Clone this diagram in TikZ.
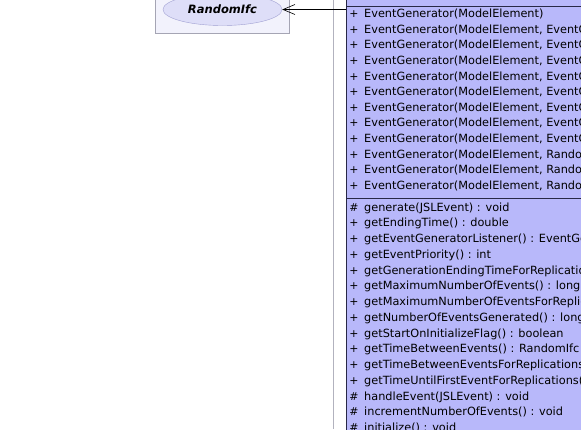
\documentclass[tikz,border=0pt]{standalone}
\usepackage{fontspec}
\setmainfont{DejaVu Sans}
\usetikzlibrary{shapes.geometric,arrows.meta}
\definecolor{pkgfill}{RGB}{242,242,252}
\definecolor{pkgline}{RGB}{165,165,180}
\definecolor{ellfill}{RGB}{222,222,248}
\definecolor{ellline}{RGB}{160,160,210}
\definecolor{clsfill}{RGB}{184,184,250}
\definecolor{clsline}{RGB}{40,40,70}
\definecolor{frameline}{RGB}{178,178,190}

\begin{document}
\begin{tikzpicture}[x=1pt, y=-1pt,
	member/.style={anchor=base west, inner sep=0pt, font=\fontsize{11.3}{13}\selectfont},
	vis/.style={anchor=base, inner sep=0pt, font=\fontsize{10.9}{13}\selectfont},
	dep/.style={-{Straight Barb[length=12pt, width=10pt]}, black, line width=0.6pt}]
	\clip (0,0) rectangle (581,429);
	\fill[white] (0,0) rectangle (581,429);
	
	% interface box on the left
	\node[draw=pkgline, fill=pkgfill, anchor=south west, minimum width=134pt, minimum height=45pt, inner sep=0pt] (pkg) at (155,33) {};
	\node[ellipse, draw=ellline, fill=ellfill, minimum width=119pt, minimum height=32pt, inner sep=0pt, font=\fontsize{11.5}{13}\selectfont\bfseries\itshape] (rnd) at (222.5,9.5) {RandomIfc};
	
	\draw[frameline] (333,0) -- (333,429);
	
	% the class
	\node[draw=clsline, fill=clsfill, anchor=north west, minimum width=260pt, minimum height=460pt, inner sep=0pt] (cls) at (346,-10) {};
	\draw[clsline] (346,6.5) -- (600,6.5);
	\draw[clsline] (346,198) -- (600,198);
	
	\draw[dep] (cls.west |- rnd.east) -- (rnd.east);
	
	% constructors
	\foreach \s/\t [count=\i from 0] in {
		+/EventGenerator(ModelElement),
		+/{EventGenerator(ModelElement, EventGeneratorActionIfc)},
		+/{EventGenerator(ModelElement, EventGeneratorActionIfc, String)},
		+/{EventGenerator(ModelElement, EventGeneratorActionIfc, RandomIfc)},
		+/{EventGenerator(ModelElement, EventGeneratorActionIfc, RandomIfc, String)},
		+/{EventGenerator(ModelElement, EventGeneratorActionIfc, RandomIfc, RandomIfc)},
		+/{EventGenerator(ModelElement, EventGeneratorActionIfc, RandomIfc, RandomIfc, String)},
		+/{EventGenerator(ModelElement, EventGeneratorActionIfc, RandomIfc, RandomIfc, long)},
		+/{EventGenerator(ModelElement, EventGeneratorActionIfc, RandomIfc, RandomIfc, long, double)},
		+/{EventGenerator(ModelElement, RandomIfc)},
		+/{EventGenerator(ModelElement, RandomIfc, RandomIfc)},
		+/{EventGenerator(ModelElement, RandomIfc, RandomIfc, long)}}
	{
		\node[vis] (cs\i) at (354,17.6+15.6*\i) {\s};
		\node[member] (ct\i) at (364,17.6+15.6*\i) {\t};
	}
	
	% methods
	\foreach \s/\t [count=\i from 0] in {
		\#/generate(JSLEvent) : void,
		+/getEndingTime() : double,
		+/getEventGeneratorListener() : EventGeneratorListenerIfc,
		+/getEventPriority() : int,
		+/getGenerationEndingTimeForReplications() : double,
		+/getMaximumNumberOfEvents() : long,
		+/getMaximumNumberOfEventsForReplications() : long,
		+/getNumberOfEventsGenerated() : long,
		+/getStartOnInitializeFlag() : boolean,
		+/getTimeBetweenEvents() : RandomIfc,
		+/getTimeBetweenEventsForReplications() : RandomIfc,
		+/getTimeUntilFirstEventForReplications() : RandomIfc,
		\#/handleEvent(JSLEvent) : void,
		\#/incrementNumberOfEvents() : void,
		\#/initialize() : void}
	{
		\node[vis] (ms\i) at (354,211+15.75*\i) {\s};
		\node[member] (mt\i) at (364,211+15.75*\i) {\t};
	}
	
\end{tikzpicture}
\end{document}
